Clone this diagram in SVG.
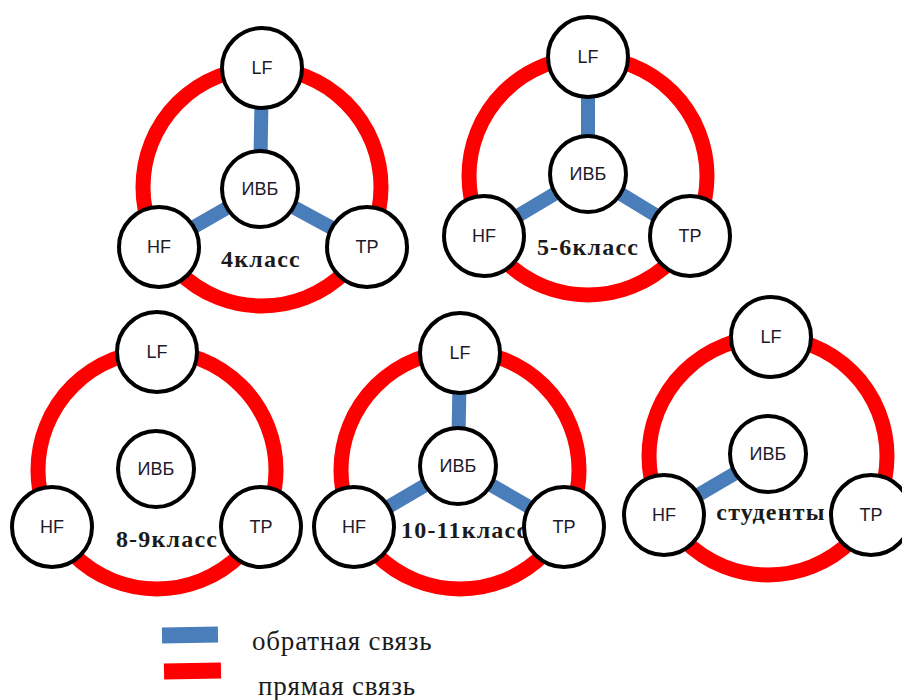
<svg xmlns="http://www.w3.org/2000/svg" width="902" height="700" viewBox="0 0 902 700">
<style>
.ring{fill:none;stroke:#ff0000;stroke-width:15}
.fb{stroke:#4a7ebb;stroke-width:14;fill:none}
.nd{fill:#fff;stroke:#000;stroke-width:4}
.nt{font-family:"Liberation Sans",Arial,sans-serif;font-size:18px;fill:#1e1a2a;text-anchor:middle;dominant-baseline:central}
.cl{font-family:"Liberation Serif","Times New Roman",serif;font-size:24px;font-weight:bold;fill:#1a1a1a;letter-spacing:1.2px}
.lg{font-family:"Liberation Serif","Times New Roman",serif;font-size:27px;fill:#1a1a1a;letter-spacing:0.8px}
</style>
<g id="rings">
<circle class="ring" cx="262" cy="187" r="119"/>
<circle class="ring" cx="588" cy="176" r="119"/>
<circle class="ring" cx="157" cy="470" r="119"/>
<circle class="ring" cx="460" cy="470" r="119"/>
<circle class="ring" cx="768" cy="456" r="119"/>
</g>
<g id="connectors">
<line class="fb" x1="260" y1="189" x2="262" y2="68"/>
<line class="fb" x1="260" y1="189" x2="159" y2="247"/>
<line class="fb" x1="260" y1="189" x2="367" y2="247"/>
<line class="fb" x1="588" y1="174" x2="588" y2="57"/>
<line class="fb" x1="588" y1="174" x2="484" y2="236"/>
<line class="fb" x1="588" y1="174" x2="690" y2="236"/>
<line class="fb" x1="458" y1="466" x2="460" y2="353"/>
<line class="fb" x1="458" y1="466" x2="354" y2="527"/>
<line class="fb" x1="458" y1="466" x2="564" y2="527"/>
<line class="fb" x1="768" y1="454" x2="664" y2="515"/>
</g>
<g id="labels">
<text class="cl" x="261" y="267" text-anchor="middle">4класс</text>
<text class="cl" x="588" y="255" text-anchor="middle">5-6класс</text>
<text class="cl" x="167" y="547" text-anchor="middle">8-9класс</text>
<text class="cl" x="401" y="538">10-11класс</text>
<text class="cl" x="771" y="520" text-anchor="middle">студенты</text>
</g>
<g id="d1-lf"><circle class="nd" cx="262" cy="68" r="40"/><text class="nt" x="262" y="68">LF</text></g>
<g id="d1-ivb"><circle class="nd" cx="260" cy="189" r="38"/><text class="nt" x="260" y="189">ИВБ</text></g>
<g id="d1-hf"><circle class="nd" cx="159" cy="247" r="40"/><text class="nt" x="159" y="247">HF</text></g>
<g id="d1-tp"><circle class="nd" cx="367" cy="247" r="40"/><text class="nt" x="367" y="247">TP</text></g>
<g id="d2-lf"><circle class="nd" cx="588" cy="57" r="40"/><text class="nt" x="588" y="57">LF</text></g>
<g id="d2-ivb"><circle class="nd" cx="588" cy="174" r="38"/><text class="nt" x="588" y="174">ИВБ</text></g>
<g id="d2-hf"><circle class="nd" cx="484" cy="236" r="40"/><text class="nt" x="484" y="236">HF</text></g>
<g id="d2-tp"><circle class="nd" cx="690" cy="236" r="40"/><text class="nt" x="690" y="236">TP</text></g>
<g id="d3-lf"><circle class="nd" cx="157" cy="352" r="40"/><text class="nt" x="157" y="352">LF</text></g>
<g id="d3-ivb"><circle class="nd" cx="156" cy="469" r="38"/><text class="nt" x="156" y="469">ИВБ</text></g>
<g id="d3-hf"><circle class="nd" cx="52" cy="527" r="40"/><text class="nt" x="52" y="527">HF</text></g>
<g id="d3-tp"><circle class="nd" cx="261" cy="527" r="40"/><text class="nt" x="261" y="527">TP</text></g>
<g id="d4-lf"><circle class="nd" cx="460" cy="353" r="40"/><text class="nt" x="460" y="353">LF</text></g>
<g id="d4-ivb"><circle class="nd" cx="458" cy="466" r="38"/><text class="nt" x="458" y="466">ИВБ</text></g>
<g id="d4-hf"><circle class="nd" cx="354" cy="527" r="40"/><text class="nt" x="354" y="527">HF</text></g>
<g id="d4-tp"><circle class="nd" cx="564" cy="527" r="40"/><text class="nt" x="564" y="527">TP</text></g>
<g id="d5-lf"><circle class="nd" cx="771" cy="337" r="40"/><text class="nt" x="771" y="337">LF</text></g>
<g id="d5-ivb"><circle class="nd" cx="768" cy="454" r="38"/><text class="nt" x="768" y="454">ИВБ</text></g>
<g id="d5-hf"><circle class="nd" cx="664" cy="515" r="40"/><text class="nt" x="664" y="515">HF</text></g>
<g id="d5-tp"><circle class="nd" cx="871" cy="515" r="40"/><text class="nt" x="871" y="515">TP</text></g>
<g id="legend">
<rect x="162" y="627" width="56" height="16" fill="#4a7ebb" transform="rotate(-1 190 635)"/>
<rect x="164" y="663" width="57" height="16" fill="#ff0000" transform="rotate(-1 192 671)"/>
<text class="lg" x="252" y="650">обратная связь</text>
<text class="lg" x="258" y="695">прямая связь</text>
</g>
</svg>
